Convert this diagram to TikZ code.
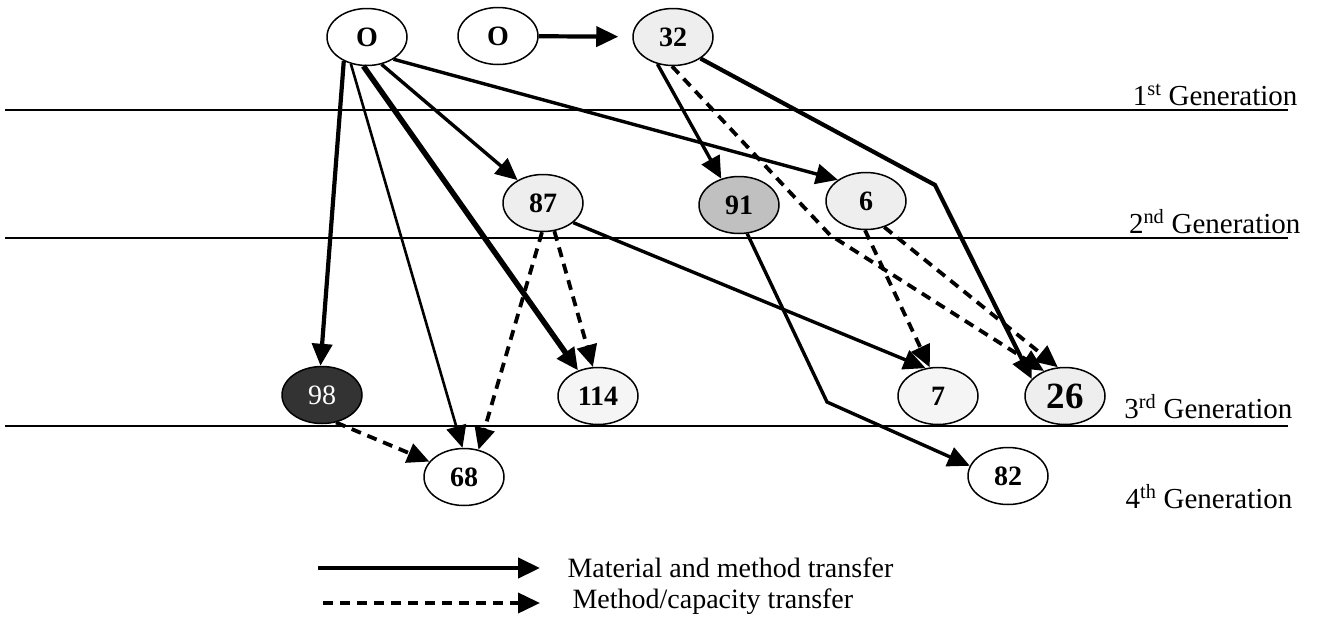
\documentclass[tikz,border=0pt]{standalone}
\usepackage{fontspec}
\setmainfont{Liberation Serif}
\usetikzlibrary{shapes.geometric,arrows.meta}
\definecolor{lg}{HTML}{EEEEEE}
\definecolor{vlg}{HTML}{F5F5F5}
\definecolor{mg}{HTML}{C0C0C0}
\definecolor{dg}{HTML}{333333}
\tikzset{
 gnode/.style={ellipse, draw, line width=1.5pt, minimum width=80pt, minimum height=57pt, inner sep=0pt, text height=19pt, text depth=0pt, font=\fontsize{28}{30}\selectfont\bfseries},
 mat/.style={line width=3.4pt, -{Triangle[length=22pt,width=20pt]}},
 meth/.style={line width=3.8pt, dash pattern=on 10pt off 7pt, -{Triangle[length=22pt,width=20pt]}},
 genline/.style={line width=2.2pt},
 genlabel/.style={anchor=base east, font=\fontsize{29}{31}\selectfont},
 legtext/.style={anchor=west, font=\fontsize{28}{30}\selectfont}
}
\begin{document}
\begin{tikzpicture}[x=1pt,y=-1pt]
\useasboundingbox (0,0) rectangle (1318,619);
% generation lines
\coordinate (g1a) at (5,110); \coordinate (g1b) at (1288,110);
\coordinate (g2a) at (5,238); \coordinate (g2b) at (1288,238);
\coordinate (g3a) at (5,426); \coordinate (g3b) at (1288,426);
\draw[genline] (g1a) -- (g1b);
\draw[genline] (g2a) -- (g2b);
\draw[genline] (g3a) -- (g3b);
\node[genlabel] (t1) at (1301,105) {1\textsuperscript{st} Generation};
\node[genlabel] (t2) at (1304,233) {2\textsuperscript{nd} Generation};
\node[genlabel] (t3) at (1296,418) {3\textsuperscript{rd} Generation};
\node[genlabel] (t4) at (1296,508) {4\textsuperscript{th} Generation};
% nodes
\node[gnode, fill=white] (O1) at (367,37) {O};
\node[gnode, fill=white] (O2) at (498,36) {O};
\node[gnode, fill=lg] (n32) at (673,37) {32};
\node[gnode, fill=lg] (n87) at (543,203) {87};
\node[gnode, fill=mg] (n91) at (739,205) {91};
\node[gnode, fill=lg] (n6) at (866,201) {6};
\node[gnode, fill=dg, text=white, font=\fontsize{28}{30}\selectfont\mdseries] (n98) at (322,395) {98};
\node[gnode, fill=vlg] (n114) at (598,396) {114};
\node[gnode, fill=vlg] (n7) at (938,396) {7};
\node[gnode, fill=lg, text height=25pt, font=\fontsize{37}{39}\selectfont\bfseries] (n26) at (1065,396) {26};
\node[gnode, fill=white] (n68) at (464,477) {68};
\node[gnode, fill=white] (n82) at (1008,476) {82};
% bend points
\coordinate (b1) at (935,185);
\coordinate (b2) at (830,235);
\coordinate (b3) at (827,402);
% material and method transfer
\draw[mat, line width=4.2pt] (O1.-134) -- (n98.93);
\draw[mat, line width=2.6pt] (O1.-121) -- (n68.93);
\draw[mat, line width=5.5pt] (O1.-97) -- (n114.128);
\draw[mat] (O1.-62) -- (n87.138);
\draw[mat] (O1.-40) -- (n6.143);
\draw[mat, line width=4.2pt, shorten >=14pt] (O2) -- (n32);
\draw[mat] (n32.-120) -- (n91.124);
\draw[mat, line width=4.2pt] (n32.-38) -- (b1) -- (n26.153);
\draw[mat] (n87.-33) -- (n7.114);
\draw[mat] (n91.-74) -- (b3) -- (n82.165);
% method/capacity transfer
\draw[meth] (n32.-92) -- (b2) -- (n26.130);
\draw[meth] (n6.-92) -- (n7.106);
\draw[meth] (n6.-55) -- (n26.104);
\draw[meth] (n87.-92) -- (n68.62);
\draw[meth] (n87.-68) -- (n114.100);
\draw[meth] (n98.-63) -- (n68.156);
% legend
\coordinate (l1a) at (318,568); \coordinate (l1b) at (540,568);
\coordinate (l2a) at (323,603); \coordinate (l2b) at (540,603);
\draw[mat, line width=4.5pt] (l1a) -- (l1b);
\draw[meth] (l2a) -- (l2b);
\node[legtext] (lt1) at (564,568) {Material and method transfer};
\node[legtext] (lt2) at (569,602) {Method/capacity transfer};
\end{tikzpicture}
\end{document}
